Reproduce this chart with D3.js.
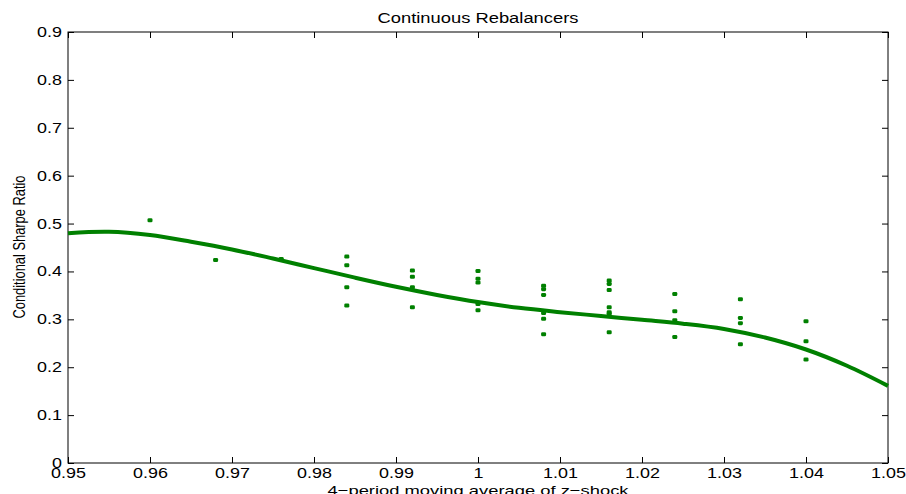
<!DOCTYPE html>
<html>
<head>
<meta charset="utf-8">
<script src="https://cdn.jsdelivr.net/npm/d3@7"></script>
<style>
  html, body { margin: 0; padding: 0; background: #fff; }
  svg { display: block; }
  text { font-family: "Liberation Sans", Arial, Helvetica, sans-serif; fill: #000; }
</style>
</head>
<body>
<svg id="chart" width="906" height="494"></svg>
<script>
// Observations: shock level (x) and conditional Sharpe ratios seen at that level
const groupX = [0.960, 0.968, 0.976, 0.984, 0.992, 1.000, 1.008, 1.016, 1.024, 1.032, 1.040];
const groupY = [
  [0.507],
  [0.424],
  [0.426],
  [0.431, 0.413, 0.367, 0.329],
  [0.402, 0.389, 0.367, 0.325],
  [0.401, 0.385, 0.377, 0.332, 0.319],
  [0.370, 0.363, 0.351, 0.313, 0.301, 0.269],
  [0.381, 0.374, 0.361, 0.325, 0.315, 0.311, 0.273],
  [0.353, 0.317, 0.298, 0.263],
  [0.342, 0.303, 0.292, 0.248],
  [0.296, 0.254, 0.216]
];

// Fitted curve
const fitX = [0.950, 0.955, 0.960, 0.965, 0.970, 0.975, 0.980, 0.985, 0.990, 0.995,
              1.000, 1.005, 1.010, 1.015, 1.020, 1.025, 1.030, 1.035, 1.040, 1.045, 1.050];
const fitY = [0.480, 0.483, 0.476, 0.462, 0.446, 0.427, 0.407, 0.387, 0.368, 0.351,
              0.336, 0.324, 0.315, 0.307, 0.299, 0.291, 0.280, 0.262, 0.237, 0.203, 0.161];

const xTicks = [0.95, 0.96, 0.97, 0.98, 0.99, 1.00, 1.01, 1.02, 1.03, 1.04, 1.05];
const xTickLabels = ["0.95", "0.96", "0.97", "0.98", "0.99", "1", "1.01", "1.02", "1.03", "1.04", "1.05"];
const yTicks = [0, 0.1, 0.2, 0.3, 0.4, 0.5, 0.6, 0.7, 0.8, 0.9];
const yTickLabels = ["0", "0.1", "0.2", "0.3", "0.4", "0.5", "0.6", "0.7", "0.8", "0.9"];

const titleText = "Continuous Rebalancers";
const xLabelText = "4\u2212period moving average of z\u2212shock";
const yLabelText = "Conditional Sharpe Ratio";

const W = 906, H = 494;
const margin = { left: 68, right: 18, top: 32, bottom: 31 };
const green = "#008000";

const svg = d3.select("#chart");
const x = d3.scaleLinear().domain([0.95, 1.05]).range([margin.left, W - margin.right]);
const y = d3.scaleLinear().domain([0, 0.9]).range([H - margin.bottom, margin.top]);

// Stretch text horizontally by a factor
function widen(sel, k) {
  sel.each(function () {
    const len = this.getComputedTextLength();
    d3.select(this).attr("textLength", len * k).attr("lengthAdjust", "spacingAndGlyphs");
  });
}

const tickLen = 6;
// bottom axis (labels) with inward ticks
const gx = svg.append("g").attr("transform", `translate(0,${y(0)})`)
  .call(d3.axisBottom(x).tickValues(xTicks).tickSize(-tickLen).tickPadding(5)
    .tickFormat((d, i) => xTickLabels[i]));
gx.select(".domain").remove();
gx.selectAll("line").attr("stroke", "#000");
gx.selectAll("text").attr("font-size", 14).attr("font-family", "Liberation Sans, Arial, sans-serif");
// top axis ticks
const gxt = svg.append("g").attr("transform", `translate(0,${y(0.9)})`)
  .call(d3.axisTop(x).tickValues(xTicks).tickSize(-tickLen).tickFormat(""));
gxt.select(".domain").remove();
gxt.selectAll("line").attr("stroke", "#000");

// left axis
const gy = svg.append("g").attr("transform", `translate(${x(0.95)},0)`)
  .call(d3.axisLeft(y).tickValues(yTicks).tickSize(-tickLen).tickPadding(6)
    .tickFormat((d, i) => yTickLabels[i]));
gy.select(".domain").remove();
gy.selectAll("line").attr("stroke", "#000");
gy.selectAll("text").attr("font-size", 14).attr("font-family", "Liberation Sans, Arial, sans-serif");
// right axis ticks
const gyr = svg.append("g").attr("transform", `translate(${x(1.05)},0)`)
  .call(d3.axisRight(y).tickValues(yTicks).tickSize(-tickLen).tickFormat(""));
gyr.select(".domain").remove();
gyr.selectAll("line").attr("stroke", "#000");

// box
svg.append("rect")
  .attr("x", x(0.95)).attr("y", y(0.9))
  .attr("width", x(1.05) - x(0.95)).attr("height", y(0) - y(0.9))
  .attr("fill", "none").attr("stroke", "#000").attr("stroke-width", 1);

widen(gx.selectAll("text"), 1.28);
widen(gy.selectAll("text"), 1.28);

// fitted line
const line = d3.line().x((d, i) => x(fitX[i])).y(d => y(d)).curve(d3.curveCatmullRom);
svg.append("path").datum(fitY)
  .attr("d", line)
  .attr("fill", "none").attr("stroke", green).attr("stroke-width", 4);

// scatter points
const pts = [];
groupX.forEach((gxv, i) => groupY[i].forEach(v => pts.push([gxv, v])));
svg.append("g").selectAll("rect").data(pts).join("rect")
  .attr("x", d => x(d[0]) - 2.5).attr("y", d => y(d[1]) - 2)
  .attr("width", 5).attr("height", 4).attr("rx", 1.3)
  .attr("fill", green);

// title and axis labels
svg.append("text").attr("x", (x(0.95) + x(1.05)) / 2).attr("y", 23)
  .attr("text-anchor", "middle").attr("font-size", 14).text(titleText)
  .attr("textLength", 201).attr("lengthAdjust", "spacingAndGlyphs");

svg.append("text").attr("x", (x(0.95) + x(1.05)) / 2).attr("y", 495)
  .attr("text-anchor", "middle").attr("font-size", 13.5).text(xLabelText)
  .attr("textLength", 301).attr("lengthAdjust", "spacingAndGlyphs");

svg.append("text")
  .attr("transform", `translate(25,${247}) rotate(-90)`)
  .attr("text-anchor", "middle").attr("font-size", 16).text(yLabelText)
  .attr("textLength", 143).attr("lengthAdjust", "spacingAndGlyphs");
</script>
</body>
</html>
